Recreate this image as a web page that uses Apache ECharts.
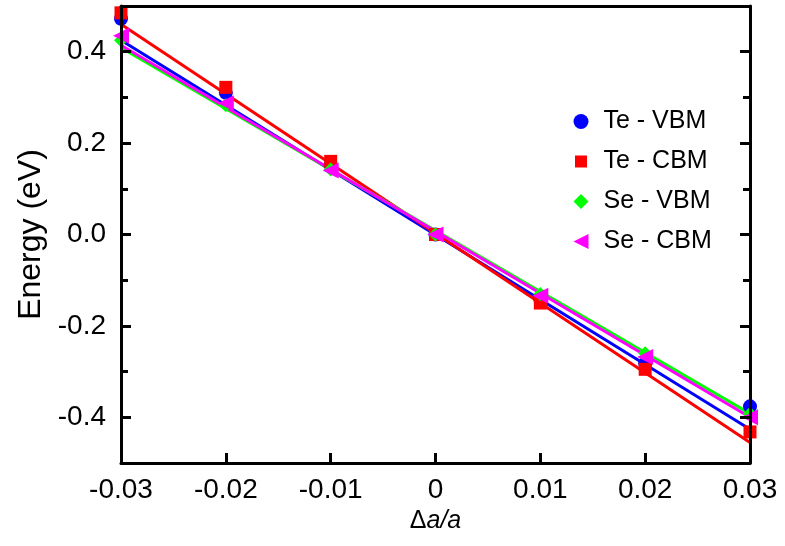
<!DOCTYPE html>
<html>
<head>
<meta charset="utf-8">
<script src="https://cdn.jsdelivr.net/npm/echarts/dist/echarts.min.js"></script>
<style>
html,body{margin:0;padding:0;background:#fff;}
#chart{width:785px;height:546px;}
</style>
</head>
<body>
<div id="chart"></div>
<script>
// ---- data ----
var strain = [-0.03, -0.02, -0.01, 0, 0.01, 0.02, 0.03];
var teVBM = [0.472, 0.31, 0.152, 0.0, -0.142, -0.282, -0.376];
var teCBM = [0.485, 0.322, 0.16, 0.0, -0.15, -0.295, -0.432];
var seVBM = [0.425, 0.283, 0.142, 0.0, -0.13, -0.26, -0.392];
var seCBM = [0.435, 0.287, 0.14, 0.0, -0.134, -0.268, -0.40];
// linear fits, evaluated at the ends of the strain range
var fitX = [-0.03, 0.03];
var teVBMfit = [0.425, -0.426];
var teCBMfit = [0.46, -0.455];
var seVBMfit = [0.409, -0.392];
var seCBMfit = [0.414, -0.40];
var yTickLabels = ['-0.5','-0.4','-0.3','-0.2','-0.1','0.0','0.1','0.2','0.3','0.4','0.5'];
var names = ['Te - VBM', 'Te - CBM', 'Se - VBM', 'Se - CBM'];

var FONT = '"Liberation Sans", Arial, Helvetica, sans-serif';
var triLeft = 'path://M0,5 L10,0 L10,10 Z';
var legendSquare = 'path://M0,0 M15,15 M1.5,1.5 L13.5,1.5 L13.5,13.5 L1.5,13.5 Z';

function pairs(xs, ys){ return xs.map(function(x,i){ return [x, ys[i]]; }); }

var chart = echarts.init(document.getElementById('chart'), null, {renderer:'canvas'});
var axisLine = {show:true, onZero:false, lineStyle:{color:'#000', width:3}};
var majorFn = function(i){ return i % 2 === 1; };

var option = {
  backgroundColor: '#fff',
  animation: false,
  textStyle: {fontFamily: FONT, color:'#000'},
  grid: {left:121, right:35, top:6, bottom:83, containLabel:false},
  legend: {
    orient: 'vertical', left: 568.5, top: 104,
    itemWidth: 15, itemHeight: 15, itemGap: 15,
    textStyle: {fontFamily: FONT, fontSize: 25, color:'#000', lineHeight: 25, padding:[0,0,0,10]},
    data: [
      {name: names[0], icon: 'circle'},
      {name: names[1], icon: legendSquare},
      {name: names[2], icon: 'diamond'},
      {name: names[3], icon: triLeft}
    ]
  },
  xAxis: [
    {type:'value', position:'bottom', min:-0.03, max:0.03, interval:0.01, z:10,
     axisLine: axisLine,
     axisTick: {show:true, inside:true, length:10, lineStyle:{color:'#000', width:3}},
     axisLabel: {fontSize:28, color:'#000', margin:13, fontFamily: FONT},
     splitLine: {show:false},
     name: '{d|Δ}{i|a/a}', nameLocation:'middle', nameGap:45,
     nameTextStyle: {rich: {d:{fontSize:25, fontFamily:FONT, color:'#000'}, i:{fontSize:25, fontStyle:'italic', fontFamily:FONT, color:'#000'}}}
    },
    {type:'value', position:'top', min:-0.03, max:0.03, interval:0.01, z:10,
     axisLine: axisLine, axisTick:{show:false}, axisLabel:{show:false}, splitLine:{show:false}}
  ],
  yAxis: [
    {type:'value', position:'left', min:-0.5, max:0.5, interval:0.1, z:10,
     axisLine: axisLine,
     axisTick: {show:true, inside:true, length:7, lineStyle:{color:'#000', width:3}},
     axisLabel: {show:false}, splitLine:{show:false}},
    {type:'category', position:'left', data: yTickLabels, boundaryGap:false, z:10,
     axisLine: {show:false, onZero:false},
     axisTick: {show:true, inside:true, length:10, interval: majorFn, lineStyle:{color:'#000', width:3}},
     axisLabel: {show:true, interval: majorFn, fontSize:28, color:'#000', margin:15, fontFamily: FONT},
     splitLine:{show:false},
     name: 'Energy (eV)', nameLocation:'middle', nameRotate:90, nameGap:73,
     nameTextStyle: {fontSize:32, color:'#000', fontFamily: FONT}},
    {type:'value', position:'right', min:-0.5, max:0.5, interval:0.1, z:10,
     axisLine: axisLine,
     axisTick: {show:true, inside:true, length:7, lineStyle:{color:'#000', width:3}},
     axisLabel: {show:false}, splitLine:{show:false}},
    {type:'category', position:'right', data: yTickLabels, boundaryGap:false, z:10,
     axisLine: {show:false, onZero:false},
     axisTick: {show:true, inside:true, length:10, interval: majorFn, lineStyle:{color:'#000', width:3}},
     axisLabel: {show:false}, splitLine:{show:false}}
  ],
  series: [
    {name:'Te - VBM fit', type:'line', data: pairs(fitX, teVBMfit), showSymbol:false, symbol:'none',
     lineStyle:{color:'#0000ff', width:3}, z:2},
    {name:'Te - CBM fit', type:'line', data: pairs(fitX, teCBMfit), showSymbol:false, symbol:'none',
     lineStyle:{color:'#ff0000', width:3}, z:2},
    {name:'Se - VBM fit', type:'line', data: pairs(fitX, seVBMfit), showSymbol:false, symbol:'none',
     lineStyle:{color:'#00ff00', width:3}, z:2},
    {name:'Se - CBM fit', type:'line', data: pairs(fitX, seCBMfit), showSymbol:false, symbol:'none',
     lineStyle:{color:'#ff00ff', width:3}, z:2},
    {name: names[0], type:'scatter', data: pairs(strain, teVBM), symbol:'circle', symbolSize:14,
     itemStyle:{color:'#0000ff', opacity:1}, clip:false, z:3},
    {name: names[1], type:'scatter', data: pairs(strain, teCBM), symbol:'rect', symbolSize:13,
     itemStyle:{color:'#ff0000', opacity:1}, clip:false, z:3},
    {name: names[2], type:'scatter', data: pairs(strain, seVBM), symbol:'diamond', symbolSize:14,
     itemStyle:{color:'#00ff00', opacity:1}, clip:false, z:3},
    {name: names[3], type:'scatter', data: pairs(strain, seCBM), symbol: triLeft, symbolSize:16,
     itemStyle:{color:'#ff00ff', opacity:1}, clip:false, z:3}
  ]
};
chart.setOption(option);
</script>
</body>
</html>
